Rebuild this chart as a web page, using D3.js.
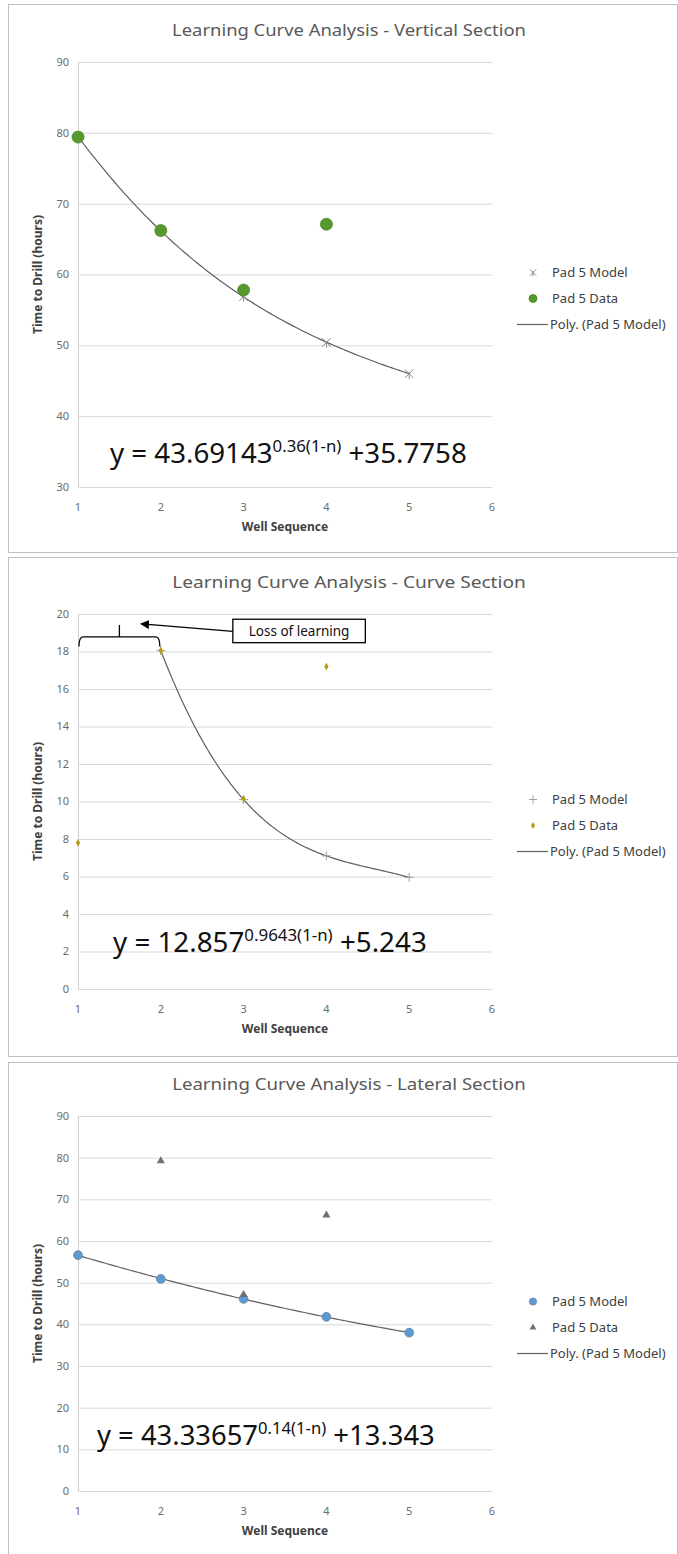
<!DOCTYPE html>
<html>
<head>
<meta charset="utf-8">
<script src="https://cdn.jsdelivr.net/npm/d3@7"></script>
<style>
  body { margin: 0; background: #fff; }
  svg { display: block; font-family: "Noto Sans", "Open Sans", sans-serif; }
</style>
</head>
<body>
<div id="chart"></div>
<script>
// dati
const wells = [1, 2, 3, 4, 5];
const xTicks = [1, 2, 3, 4, 5, 6];

const titles = [
  "Learning Curve Analysis - Vertical Section",
  "Learning Curve Analysis - Curve Section",
  "Learning Curve Analysis - Lateral Section"
];
const seriesNames = ["Pad 5 Model", "Pad 5 Data", "Poly. (Pad 5 Model)"];

// sezione verticale
const vertModel = [79.5, 66.1, 56.9, 50.4, 46.0];
const vertData = [79.4, 66.2, 57.8, 67.1, null];
// sezione curva
const curveModel = [null, 18.05, 10.1, 7.1, 5.95];
const curveData = [7.8, 18.05, 10.15, 17.2, null];
// sezione laterale
const latModel = [56.6, 50.9, 46.1, 41.8, 38.0];
const latData = [null, 79.2, 47.1, 66.2, null];

const eqBase = ["43.69143", "12.857", "43.33657"];
const eqExp = ["0.36(1-n)", "0.9643(1-n)", "0.14(1-n)"];
const eqConst = ["+35.7758", "+5.243", "+13.343"];

// annotazione "Loss of learning" (coordinate nei valori del grafico)
const bracketX = [1, 2];
const bracketY = [18.78, 18.27, 19.42];
const noteBoxX = [2.87, 4.47];
const noteBoxY = [19.72, 18.47];
const noteArrow = [[2.87, 19.07], [1.77, 19.47]];
const noteText = "Loss of learning";

const width = 678, height = 1554;

const panels = [
  { top: 4, h: 548, plotTop: 62, plotBottom: 487, yDomain: [30, 90], yStep: 10,
    model: vertModel, data: vertData, modelMark: "star", dataMark: "circle",
    eqX: 110, eqY: 463, eqW: 357, order: 3 },
  { top: 557, h: 499, plotTop: 614, plotBottom: 989, yDomain: [0, 20], yStep: 2,
    model: curveModel, data: curveData, modelMark: "plus", dataMark: "diamond",
    eqX: 113, eqY: 952, eqW: 314, order: 3 },
  { top: 1062, h: 500, plotTop: 1116, plotBottom: 1491, yDomain: [0, 90], yStep: 10,
    model: latModel, data: latData, modelMark: "bluecircle", dataMark: "triangle",
    eqX: 97, eqY: 1445, eqW: 338, order: 2 }
];

const svg = d3.select("#chart").append("svg")
  .attr("width", width)
  .attr("height", height);

// regressione polinomiale (minimi quadrati) per la linea di tendenza
function polyfit(xs, ys, order) {
  const n = order + 1;
  const A = d3.range(n).map(() => new Array(n + 1).fill(0));
  xs.forEach((x, i) => {
    for (let r = 0; r < n; r++) {
      for (let c = 0; c < n; c++) A[r][c] += Math.pow(x, r + c);
      A[r][n] += ys[i] * Math.pow(x, r);
    }
  });
  for (let i = 0; i < n; i++) {
    let p = i;
    for (let k = i + 1; k < n; k++) if (Math.abs(A[k][i]) > Math.abs(A[p][i])) p = k;
    [A[i], A[p]] = [A[p], A[i]];
    for (let k = i + 1; k < n; k++) {
      const f = A[k][i] / A[i][i];
      for (let c = i; c <= n; c++) A[k][c] -= f * A[i][c];
    }
  }
  const coef = new Array(n).fill(0);
  for (let i = n - 1; i >= 0; i--) {
    let s = A[i][n];
    for (let c = i + 1; c < n; c++) s -= A[i][c] * coef[c];
    coef[i] = s / A[i][i];
  }
  return x => coef.reduce((acc, a, i) => acc + a * Math.pow(x, i), 0);
}

// schiaccia il testo in orizzontale fino alla larghezza voluta
function fitWidth(g, target) {
  const w = g.node().getBBox().width;
  const k = target / w;
  g.attr("transform", `${g.attr("transform")} scale(${k},1)`);
}

const x = d3.scaleLinear().domain([1, 6]).range([78, 492]);

function drawMarker(g, type, size) {
  if (type === "circle") {
    g.append("circle").attr("r", size).attr("fill", "#56982e").attr("stroke", "#4a8a26").attr("stroke-width", 0.8);
  } else if (type === "bluecircle") {
    g.append("circle").attr("r", size * 0.8).attr("fill", "#5b9bd5").attr("stroke", "#6a7f96").attr("stroke-width", 0.8);
  } else if (type === "star") {
    const s = size * 0.8;
    g.append("path")
      .attr("d", `M${-s},${-s}L${s},${s}M${-s},${s}L${s},${-s}M0,${-s * 0.4}L0,${s * 1.2}`)
      .attr("stroke", "#8c8c8c").attr("stroke-width", 1).attr("fill", "none");
  } else if (type === "plus") {
    const s = size;
    g.append("path")
      .attr("d", `M${-s},0L${s},0M0,${-s}L0,${s}`)
      .attr("stroke", "#a0a0a0").attr("stroke-width", 1).attr("fill", "none");
  } else if (type === "diamond") {
    g.append("path")
      .attr("d", d3.symbol(d3.symbolDiamond, size * size * 1.6)())
      .attr("fill", "#b99a12");
  } else if (type === "triangle") {
    g.append("path")
      .attr("d", d3.symbol(d3.symbolTriangle, size * size * 2.2)())
      .attr("fill", "#6f6f78");
  }
}

panels.forEach((p, i) => {
  const g = svg.append("g");
  const y = d3.scaleLinear().domain(p.yDomain).range([p.plotBottom, p.plotTop]);
  const yTicks = d3.range(p.yDomain[0], p.yDomain[1] + p.yStep / 2, p.yStep);

  // cornice del pannello
  g.append("rect")
    .attr("x", 8.5).attr("y", p.top + 0.5)
    .attr("width", 669).attr("height", p.h)
    .attr("fill", "#fff").attr("stroke", "#bfbfbf");

  // titolo
  const t = g.append("g").attr("transform", `translate(${(x.range()[0] + 620) / 2},${p.plotTop - 26})`);
  t.append("text").attr("text-anchor", "middle")
    .attr("font-size", 17).attr("fill", "#595959").text(titles[i]);
  fitWidth(t, 354);

  // griglia
  g.append("g").selectAll("line").data(yTicks).join("line")
    .attr("x1", x(1)).attr("x2", x(6))
    .attr("y1", d => y(d) + 0.5).attr("y2", d => y(d) + 0.5)
    .attr("stroke", "#d9d9d9").attr("stroke-width", 1);
  g.append("line")
    .attr("x1", x(1) + 0.5).attr("x2", x(1) + 0.5)
    .attr("y1", y.range()[0]).attr("y2", y.range()[1])
    .attr("stroke", "#d0d0d0");

  // etichette assi
  g.append("g").selectAll("text").data(yTicks).join("text")
    .attr("x", x(1) - 9).attr("y", d => y(d)).attr("dy", "0.35em")
    .attr("text-anchor", "end").attr("font-size", 11).attr("fill", "#6b6b6b")
    .text(d => d);
  g.append("g").selectAll("text").data(xTicks).join("text")
    .attr("x", d => x(d)).attr("y", p.plotBottom + 24)
    .attr("text-anchor", "middle").attr("font-size", 11).attr("fill", "#6b6b6b")
    .text(d => d);

  g.append("text")
    .attr("x", (x(1) + x(6)) / 2).attr("y", p.plotBottom + 44)
    .attr("text-anchor", "middle").attr("font-size", 12).attr("font-weight", "bold")
    .attr("fill", "#404040").text("Well Sequence");
  g.append("text")
    .attr("transform", `translate(42,${(p.plotTop + p.plotBottom) / 2}) rotate(-90)`)
    .attr("text-anchor", "middle").attr("font-size", 12).attr("font-weight", "bold")
    .attr("fill", "#404040").text("Time to Drill (hours)");

  // linea di tendenza polinomiale sul modello
  const pts = wells.map((w, j) => [w, p.model[j]]).filter(d => d[1] != null);
  const f = polyfit(pts.map(d => d[0]), pts.map(d => d[1]), p.order);
  const xs = d3.range(0, 101).map(k => pts[0][0] + (pts[pts.length - 1][0] - pts[0][0]) * k / 100);
  g.append("path")
    .datum(xs)
    .attr("d", d3.line().x(d => x(d)).y(d => y(f(d))))
    .attr("fill", "none").attr("stroke", "#5f5f5f").attr("stroke-width", 1.2);

  // punti
  const markerSize = { circle: 6, star: 5.5, plus: 4.5, diamond: 3.2, bluecircle: 5.5, triangle: 3.6 };
  pts.forEach(d => {
    drawMarker(g.append("g").attr("transform", `translate(${x(d[0])},${y(d[1])})`), p.modelMark, markerSize[p.modelMark]);
  });
  wells.forEach((w, j) => {
    if (p.data[j] == null) return;
    drawMarker(g.append("g").attr("transform", `translate(${x(w)},${y(p.data[j])})`), p.dataMark, markerSize[p.dataMark]);
  });

  // equazione
  const eq = g.append("g").attr("transform", `translate(${p.eqX},${p.eqY})`);
  const et = eq.append("text").attr("font-size", 28).attr("fill", "#111");
  et.append("tspan").text(`y = ${eqBase[i]}`);
  et.append("tspan").attr("font-size", 17).attr("dy", -11).text(eqExp[i]);
  et.append("tspan").attr("dy", 11).text(` ${eqConst[i]}`);
  fitWidth(eq, p.eqW);

  // legenda
  const cy = (p.plotTop + p.plotBottom) / 2;
  const legY = [cy - 2, cy + 24, cy + 50];
  const legend = g.append("g");
  const legSize = { circle: 4, star: 4, plus: 4, diamond: 3, bluecircle: 4.5, triangle: 3 };
  drawMarker(legend.append("g").attr("transform", `translate(533,${legY[0]})`), p.modelMark, legSize[p.modelMark]);
  drawMarker(legend.append("g").attr("transform", `translate(533,${legY[1]})`), p.dataMark, legSize[p.dataMark]);
  legend.append("line")
    .attr("x1", 517).attr("x2", 548).attr("y1", legY[2]).attr("y2", legY[2])
    .attr("stroke", "#5f5f5f").attr("stroke-width", 1.2);
  legend.selectAll("text").data(seriesNames).join("text")
    .attr("x", (d, k) => k === 2 ? 550 : 552).attr("y", (d, k) => legY[k]).attr("dy", "0.35em")
    .attr("font-size", 13).attr("fill", "#404040").text(d => d);

  // annotazione sulla sezione curva
  if (i === 1) {
    const xm = (x(bracketX[0]) + x(bracketX[1])) / 2;
    const yl = y(bracketY[0]), ye = y(bracketY[1]), yt = y(bracketY[2]);
    const x0 = x(bracketX[0]) + 1, x1 = x(bracketX[1]) - 1;
    g.append("path")
      .attr("d", `M${x0},${ye}Q${x0},${yl} ${x0 + 4},${yl}L${x1 - 4},${yl}Q${x1},${yl} ${x1},${ye}` +
                 `M${xm},${yl}L${xm},${yt}`)
      .attr("fill", "none").attr("stroke", "#000").attr("stroke-width", 1.3);

    g.append("defs").append("marker")
      .attr("id", "arrow").attr("viewBox", "0 0 10 10")
      .attr("refX", 8).attr("refY", 5)
      .attr("markerWidth", 7).attr("markerHeight", 7)
      .attr("orient", "auto")
      .append("path").attr("d", "M0,0L10,5L0,10z").attr("fill", "#000");
    g.append("line")
      .attr("x1", x(noteArrow[0][0])).attr("y1", y(noteArrow[0][1]))
      .attr("x2", x(noteArrow[1][0])).attr("y2", y(noteArrow[1][1]))
      .attr("stroke", "#000").attr("stroke-width", 1.3)
      .attr("marker-end", "url(#arrow)");

    g.append("rect")
      .attr("x", x(noteBoxX[0])).attr("y", y(noteBoxY[0]))
      .attr("width", x(noteBoxX[1]) - x(noteBoxX[0]))
      .attr("height", y(noteBoxY[1]) - y(noteBoxY[0]))
      .attr("fill", "#fff").attr("stroke", "#000").attr("stroke-width", 1.3);
    g.append("text")
      .attr("x", (x(noteBoxX[0]) + x(noteBoxX[1])) / 2)
      .attr("y", (y(noteBoxY[0]) + y(noteBoxY[1])) / 2).attr("dy", "0.35em")
      .attr("text-anchor", "middle").attr("font-size", 13.5).attr("fill", "#111")
      .text(noteText);
  }
});
</script>
</body>
</html>
